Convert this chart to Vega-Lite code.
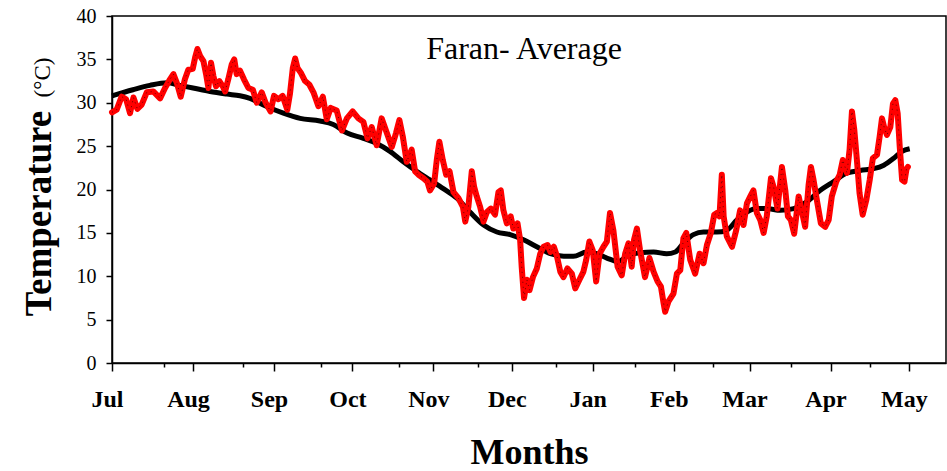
{
  "$schema": "https://vega.github.io/schema/vega-lite/v6.json",
  "width": 834,
  "height": 347,
  "autosize": {"type": "none"},
  "padding": {"left": 112, "top": 16, "right": 1, "bottom": 108},
  "background": "white",
  "config": {
    "view": {"stroke": "black", "strokeWidth": 1.5},
    "font": "Liberation Serif"
  },
  "datasets": {
    "red": [
      {"day":0,"temp":28.9},{"day":1.8,"temp":29.2},{"day":3.7,"temp":30.7},{"day":5.4,"temp":30.4},{"day":6.9,"temp":28.8},{"day":8.2,"temp":30.6},{"day":9.7,"temp":29.3},{"day":11.4,"temp":29.8},{"day":13.3,"temp":31.2},{"day":15.8,"temp":31.3},{"day":18.4,"temp":30.5},{"day":20.3,"temp":31.7},{"day":22.2,"temp":32.7},{"day":23.5,"temp":33.3},{"day":24.8,"temp":32.3},{"day":26.3,"temp":30.7},{"day":27.9,"temp":32.7},{"day":29.2,"temp":33.8},{"day":30.9,"temp":33.9},{"day":31.8,"temp":35.2},{"day":32.7,"temp":36.2},{"day":33.7,"temp":35.4},{"day":35,"temp":34.8},{"day":36,"temp":33.3},{"day":36.9,"temp":31.7},{"day":37.9,"temp":34.6},{"day":38.8,"temp":33.1},{"day":39.8,"temp":31.9},{"day":41.1,"temp":32.5},{"day":42.4,"temp":31.9},{"day":43.3,"temp":31.3},{"day":44.5,"temp":32.7},{"day":45.8,"temp":34.4},{"day":46.8,"temp":35.0},{"day":47.7,"temp":33.3},{"day":49,"temp":33.7},{"day":50.5,"temp":32.7},{"day":52.2,"temp":31.7},{"day":53.9,"temp":31.5},{"day":55.4,"temp":30.0},{"day":57.3,"temp":31.2},{"day":58.8,"temp":30.0},{"day":60.7,"temp":29.0},{"day":62,"temp":30.8},{"day":63.7,"temp":30.4},{"day":65.3,"temp":30.8},{"day":67.1,"temp":29.2},{"day":68.1,"temp":31.0},{"day":69.2,"temp":34.0},{"day":70.1,"temp":35.1},{"day":71,"temp":34.0},{"day":72.2,"temp":33.5},{"day":73.9,"temp":32.5},{"day":75.5,"temp":32.1},{"day":77.1,"temp":31.2},{"day":79,"temp":29.6},{"day":80.7,"temp":30.7},{"day":82.2,"temp":28.1},{"day":83.7,"temp":29.4},{"day":86,"temp":29.1},{"day":88,"temp":26.8},{"day":89.9,"temp":28.2},{"day":92.1,"temp":29.0},{"day":94.3,"temp":28.2},{"day":96.2,"temp":27.8},{"day":97.8,"temp":25.9},{"day":99.4,"temp":27.2},{"day":101.3,"temp":25.1},{"day":103.2,"temp":28.2},{"day":105.2,"temp":26.5},{"day":107.1,"temp":24.9},{"day":108.7,"temp":26.5},{"day":110,"temp":28.0},{"day":111.3,"temp":26.1},{"day":112.8,"temp":23.2},{"day":114.7,"temp":24.6},{"day":116,"temp":22.1},{"day":117.3,"temp":21.7},{"day":119.2,"temp":21.3},{"day":120.7,"temp":20.9},{"day":121.7,"temp":19.9},{"day":123.3,"temp":20.7},{"day":124.3,"temp":23.4},{"day":125.3,"temp":25.5},{"day":126.6,"temp":23.4},{"day":127.9,"temp":21.7},{"day":129.2,"temp":22.1},{"day":130.7,"temp":19.7},{"day":132.6,"temp":19.0},{"day":134.3,"temp":18.0},{"day":135.2,"temp":16.3},{"day":136.4,"temp":18.0},{"day":137.7,"temp":22.1},{"day":138.6,"temp":20.3},{"day":139.6,"temp":19.2},{"day":140.9,"temp":18.0},{"day":142.2,"temp":16.3},{"day":143.5,"temp":17.4},{"day":145,"temp":17.8},{"day":146.6,"temp":17.1},{"day":147.9,"temp":19.7},{"day":148.8,"temp":19.9},{"day":149.8,"temp":17.6},{"day":151.1,"temp":16.1},{"day":152.6,"temp":16.9},{"day":153.6,"temp":15.5},{"day":155.2,"temp":16.1},{"day":156.2,"temp":14.2},{"day":156.8,"temp":11.1},{"day":157.7,"temp":7.5},{"day":158.8,"temp":9.6},{"day":159.8,"temp":8.4},{"day":161.1,"temp":9.9},{"day":162.6,"temp":10.9},{"day":163.9,"temp":12.6},{"day":165.2,"temp":13.4},{"day":166.7,"temp":13.6},{"day":167.8,"temp":12.8},{"day":169.1,"temp":13.4},{"day":170.3,"temp":12.3},{"day":171.6,"temp":10.5},{"day":172.8,"temp":9.9},{"day":174.3,"temp":10.9},{"day":176,"temp":10.3},{"day":177.3,"temp":8.6},{"day":178.9,"temp":9.6},{"day":180.4,"temp":10.5},{"day":181.5,"temp":11.9},{"day":182.7,"temp":14.0},{"day":184,"temp":13.0},{"day":185.3,"temp":9.4},{"day":186.6,"temp":12.6},{"day":188.1,"temp":13.4},{"day":189.4,"temp":14.0},{"day":190.6,"temp":17.3},{"day":191.9,"temp":15.3},{"day":193.5,"temp":11.1},{"day":195.1,"temp":10.1},{"day":196.4,"temp":12.6},{"day":197.7,"temp":13.8},{"day":198.9,"temp":11.1},{"day":199.8,"temp":14.2},{"day":200.9,"temp":15.5},{"day":202.1,"temp":13.0},{"day":204,"temp":9.9},{"day":205.7,"temp":12.1},{"day":207.3,"temp":10.5},{"day":208.8,"temp":9.4},{"day":210.1,"temp":8.8},{"day":211.1,"temp":6.9},{"day":211.7,"temp":5.9},{"day":213,"temp":7.1},{"day":214.9,"temp":8.0},{"day":216.2,"temp":10.3},{"day":217.5,"temp":10.7},{"day":218.7,"temp":14.4},{"day":219.8,"temp":15.0},{"day":221.3,"temp":11.9},{"day":223.2,"temp":10.3},{"day":224.9,"temp":12.6},{"day":226.4,"temp":11.5},{"day":227.7,"temp":13.6},{"day":229.2,"temp":15.0},{"day":230.5,"temp":17.1},{"day":231.5,"temp":17.3},{"day":232.5,"temp":16.9},{"day":233.4,"temp":21.7},{"day":234.1,"temp":16.9},{"day":235.3,"temp":14.6},{"day":237.3,"temp":13.4},{"day":238.9,"temp":15.3},{"day":240.4,"temp":17.6},{"day":241.7,"temp":15.9},{"day":243,"temp":18.4},{"day":244.3,"temp":19.2},{"day":245.5,"temp":19.9},{"day":246.8,"temp":17.3},{"day":248.1,"temp":16.5},{"day":249.4,"temp":15.0},{"day":250.6,"temp":16.9},{"day":252.2,"temp":21.3},{"day":253.2,"temp":20.3},{"day":254.7,"temp":17.8},{"day":256.4,"temp":22.6},{"day":257.7,"temp":19.9},{"day":258.7,"temp":16.9},{"day":259.8,"temp":16.5},{"day":261.1,"temp":14.9},{"day":262.8,"temp":19.2},{"day":264.1,"temp":17.4},{"day":265.3,"temp":15.7},{"day":266.6,"temp":20.5},{"day":267.5,"temp":22.6},{"day":268.5,"temp":21.1},{"day":270,"temp":18.4},{"day":271.3,"temp":16.1},{"day":273,"temp":15.7},{"day":274.3,"temp":16.5},{"day":275.5,"temp":19.2},{"day":277.2,"temp":20.9},{"day":278.5,"temp":21.7},{"day":279.7,"temp":23.4},{"day":281.3,"temp":21.9},{"day":282.3,"temp":24.6},{"day":283.2,"temp":29.0},{"day":284.1,"temp":26.9},{"day":285.1,"temp":23.4},{"day":286.1,"temp":19.6},{"day":287.3,"temp":17.1},{"day":288.7,"temp":18.8},{"day":290,"temp":21.1},{"day":291.2,"temp":23.6},{"day":292.8,"temp":24.0},{"day":293.8,"temp":26.1},{"day":294.7,"temp":28.2},{"day":295.6,"temp":27.1},{"day":296.6,"temp":26.3},{"day":297.9,"temp":27.2},{"day":298.9,"temp":29.9},{"day":299.8,"temp":30.3},{"day":300.7,"temp":28.8},{"day":301.5,"temp":24.9},{"day":302.4,"temp":21.1},{"day":303.3,"temp":20.9},{"day":304.1,"temp":22.4},{"day":304.6,"temp":22.6}
    ],
    "black": [
      {"day":0,"temp":30.8},{"day":8,"temp":31.5},{"day":14.5,"temp":32.0},{"day":21,"temp":32.3},{"day":26,"temp":32.0},{"day":31,"temp":31.7},{"day":37.5,"temp":31.3},{"day":44,"temp":31.0},{"day":49,"temp":30.8},{"day":52.8,"temp":30.5},{"day":59,"temp":29.6},{"day":65.6,"temp":28.8},{"day":72,"temp":28.2},{"day":79.6,"temp":27.9},{"day":84.7,"temp":27.5},{"day":90,"temp":26.5},{"day":96.2,"temp":25.9},{"day":101.3,"temp":25.3},{"day":106.4,"temp":24.4},{"day":111.5,"temp":23.2},{"day":116.6,"temp":22.1},{"day":121.7,"temp":21.1},{"day":126.8,"temp":20.1},{"day":132,"temp":19.0},{"day":137,"temp":17.4},{"day":142.2,"temp":15.9},{"day":147.3,"temp":15.1},{"day":152.4,"temp":14.8},{"day":157.5,"temp":14.2},{"day":162.6,"temp":13.4},{"day":167.8,"temp":12.6},{"day":172.9,"temp":12.3},{"day":176.6,"temp":12.3},{"day":181.7,"temp":12.8},{"day":185.5,"temp":12.6},{"day":189.4,"temp":12.1},{"day":193.8,"temp":11.7},{"day":197,"temp":12.3},{"day":202.1,"temp":12.7},{"day":207.3,"temp":12.8},{"day":212.3,"temp":12.6},{"day":215.6,"temp":12.8},{"day":218.7,"temp":13.8},{"day":222.5,"temp":14.8},{"day":226.4,"temp":15.1},{"day":231.5,"temp":15.1},{"day":235.3,"temp":15.3},{"day":239.2,"temp":16.5},{"day":243,"temp":17.4},{"day":246.8,"temp":17.8},{"day":250.6,"temp":17.8},{"day":255.8,"temp":17.6},{"day":260.9,"temp":17.8},{"day":266,"temp":18.6},{"day":271.1,"temp":19.9},{"day":276.2,"temp":20.9},{"day":281.3,"temp":21.9},{"day":286.4,"temp":22.2},{"day":291.5,"temp":22.4},{"day":295.4,"temp":22.8},{"day":299.2,"temp":23.6},{"day":302.4,"temp":24.4},{"day":305.3,"temp":24.7}
    ],
    "note": [{"label": "Faran- Average", "day": 157.7, "temp": 35.1}]
  },
  "layer": [
    {
      "data": {"name": "black"},
      "mark": {"type": "line", "color": "black", "strokeWidth": 5, "interpolate": "monotone"},
      "encoding": {
        "x": {
          "field": "day", "type": "quantitative",
          "scale": {"domain": [0, 319.2], "nice": false, "zero": false},
          "axis": {
            "values": [0,10,20,30,31,40,50,60,62,70,80,90,92,100,110,120,123,130,140,150,153,160,170,180,184,190,200,210,215,220,230,240,244,250,260,270,275,280,290,300,305,310],
            "labelExpr": "{'0':'Jul','31':'Aug','62':'Sep','92':'Oct','123':'Nov','153':'Dec','184':'Jan','215':'Feb','244':'Mar','275':'Apr','305':'May'}[datum.value] || ''",
            "tickSize": {"condition": {"test": "indexof([0,31,62,92,123,153,184,215,244,275,305], datum.value) >= 0", "value": 8}, "value": 4},
            "tickColor": "black", "tickWidth": 1.5,
            "domainColor": "black", "domainWidth": 1.5,
            "grid": false,
            "labelFont": "Liberation Serif", "labelFontWeight": "bold", "labelFontSize": 24, "labelColor": "black",
            "labelPadding": 16, "labelOffset": -5, "labelOverlap": false, "labelFlush": false,
            "title": "Months", "titleFont": "Liberation Serif", "titleFontWeight": "bold", "titleFontSize": 36, "titleColor": "black", "titlePadding": 24
          }
        },
        "y": {
          "field": "temp", "type": "quantitative",
          "scale": {"domain": [0, 40], "nice": false},
          "axis": {
            "orient": "left",
            "values": [0,5,10,15,20,25,30,35,40],
            "tickSize": 6, "tickColor": "black", "tickWidth": 1.5,
            "domainColor": "black", "domainWidth": 1.5,
            "grid": false,
            "labelFont": "Liberation Serif", "labelFontSize": 20, "labelColor": "black", "labelPadding": 10,
            "title": "Temperature", "titleFont": "Liberation Serif", "titleFontWeight": "bold", "titleFontSize": 37, "titleColor": "black", "titlePadding": 18,
            "titleY": 197
          }
        }
      }
    },
    {
      "data": {"name": "red"},
      "mark": {"type": "line", "color": "#ff0000", "strokeWidth": 6, "strokeJoin": "round", "strokeCap": "round"},
      "encoding": {
        "x": {"field": "day", "type": "quantitative"},
        "y": {
          "field": "temp", "type": "quantitative",
          "axis": {
            "orient": "left", "domain": false, "ticks": false, "labels": false, "grid": false,
            "title": "(°C)", "titleFont": "Liberation Serif", "titleFontWeight": "normal", "titleFontSize": 23, "titleColor": "black",
            "titleY": 61, "titlePadding": 58
          }
        }
      }
    },
    {
      "data": {"name": "red"},
      "mark": {"type": "line", "color": "#000000", "strokeWidth": 1, "strokeDash": [1, 4], "opacity": 0.6},
      "encoding": {
        "x": {"field": "day", "type": "quantitative"},
        "y": {"field": "temp", "type": "quantitative", "axis": null}
      }
    },
    {
      "data": {"name": "note"},
      "mark": {"type": "text", "font": "Liberation Serif", "fontSize": 32, "color": "black", "align": "center", "baseline": "alphabetic"},
      "encoding": {
        "x": {"field": "day", "type": "quantitative"},
        "y": {"field": "temp", "type": "quantitative", "axis": null},
        "text": {"field": "label"}
      }
    }
  ],
  "resolve": {"axis": {"y": "independent"}}
}
